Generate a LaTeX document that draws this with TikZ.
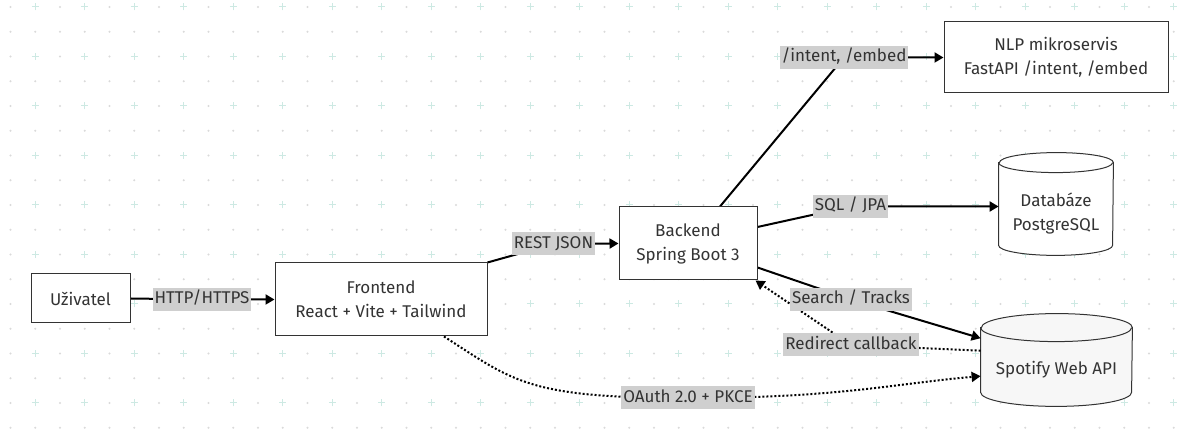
\documentclass[tikz,border=0pt]{standalone}
\usepackage{fontspec}
\setmainfont{Fira Sans}
\usetikzlibrary{arrows.meta,calc}
\pgfdeclarelayer{grid}
\pgfdeclarelayer{edges}
\pgfsetlayers{grid,edges,main}
\definecolor{ink}{HTML}{333333}
\definecolor{lblbg}{HTML}{CFCFCF}
\definecolor{plusc}{HTML}{CDE9E3}
\definecolor{dotc}{HTML}{DADADA}

\begin{document}
\begin{tikzpicture}[
  x=0.5pt,
  y=0.5pt,
  >={Triangle[length=4.5pt,width=5pt]},
  box/.style={draw=ink, line width=0.5pt, fill=white, align=center, text=ink, font=\fontsize{8.5}{12}\selectfont, inner sep=0pt},
  cylbody/.style={inner sep=0pt},
  cyltext/.style={align=center, text=ink, font=\fontsize{8.5}{12}\selectfont},
  cyl/.style={draw=ink, line width=0.5pt, fill=white},
  lbl/.style={fill=lblbg, text=ink, font=\fontsize{8.5}{10}\selectfont, text height=6.5pt, text depth=2pt, inner xsep=1pt, inner ysep=1.5pt},
  rel/.style={line width=1pt, black},
  cb/.style={rel, dash pattern=on 1pt off 1pt}
]
  \useasboundingbox (0,0) rectangle (1190,432);
  \begin{pgfonlayer}{grid}
    \fill[white] (0,0) rectangle (1190,432);
    \foreach \i in {0,...,47}{
      \foreach \j in {0,...,17}{
        \pgfmathsetmacro\gx{10.5+24.75*\i}
        \pgfmathsetmacro\gy{425-24.75*\j}
        \ifodd\i
          \ifodd\j \fill[dotc] (\gx,\gy) circle (0.55pt);
          \else \draw[plusc, line width=0.5pt] (\gx,\gy) +(-3.5,0) -- +(3.5,0) +(0,-3.5) -- +(0,3.5);
          \fi
        \else \fill[dotc] (\gx,\gy) circle (0.55pt);
        \fi
      }
    }
  \end{pgfonlayer}

  \node[box, minimum width=49.5pt, minimum height=24.5pt] (user) at (80.5,133.5) {Uživatel};
  \node[box, minimum width=106pt, minimum height=36.5pt] (front) at (381,132.5) {Frontend\\React + Vite + Tailwind};
  \node[box, minimum width=69pt, minimum height=36.5pt] (back) at (688,188.5) {Backend\\Spring Boot 3};
  \node[box, minimum width=112pt, minimum height=35.5pt] (nlp) at (1056,374.5) {NLP mikroservis\\FastAPI /intent, /embed};
  \node[cylbody, minimum width=57pt, minimum height=51pt] (db) at (1056,228) {};
  \node[cylbody, minimum width=75.5pt, minimum height=46pt] (spot) at (1056.5,72) {};
  \node[cyltext] (dbtext) at ([yshift=-5pt]db.center) {Databáze\\PostgreSQL};
  \node[cyltext] (spottext) at ([yshift=-5pt]spot.center) {Spotify Web API};

  \node[lbl] (lhttp) at (202,132.5) {HTTP/HTTPS};
  \node[lbl] (lrest) at (553.5,188) {REST JSON};
  \node[lbl] (lnlp) at (844,374.5) {/intent, /embed};
  \node[lbl] (lsql) at (850.5,225.5) {SQL / JPA};
  \node[lbl] (lsearch) at (851,132.5) {Search / Tracks};
  \node[lbl] (lredir) at (851,87) {Redirect callback};
  \node[lbl] (loauth) at (688,34) {OAuth 2.0 + PKCE};

  \begin{pgfonlayer}{edges}
    \draw[cyl] ([yshift=-5pt]db.north west) -- ([yshift=5pt]db.south west) arc[start angle=180, end angle=360, x radius=28.5pt, y radius=5pt] -- ([yshift=-5pt]db.north east) arc[start angle=0, end angle=180, x radius=28.5pt, y radius=5pt] -- cycle;
    \draw[cyl, fill=none] ([yshift=-5pt]db.north west) arc[start angle=180, end angle=360, x radius=28.5pt, y radius=5pt];
    \draw[cyl, fill=black!3] ([yshift=-7pt]spot.north west) -- ([yshift=7pt]spot.south west) arc[start angle=180, end angle=360, x radius=37.75pt, y radius=7pt] -- ([yshift=-7pt]spot.north east) arc[start angle=0, end angle=180, x radius=37.75pt, y radius=7pt] -- cycle;
    \draw[cyl, fill=none] ([yshift=-7pt]spot.north west) arc[start angle=180, end angle=360, x radius=37.75pt, y radius=7pt];

    \draw[rel, ->] (user.east) -- (lhttp.center) -- (front.west);
    \draw[rel, ->] (front.north east) -- (lrest.center) -- (back.west);
    \draw[rel, ->] ($(back.north)+(32,0)$) -- (lnlp.center) -- (nlp.west);
    \draw[rel, ->] ($(back.east)+(0,16.5)$) -- (lsql.center) -- (lsql.center -| db.west);
    \draw[rel, ->] ($(back.south east)+(0,13)$) -- (lsearch.center) -- (spot.164);
    \draw[cb, ->] (spot.173) -- (lredir.center) -- ($(back.south east)+(-2,0)$);
    \draw[cb, ->] ($(front.south)+(63,0)$) .. controls +(70,-45) and +(-160,0) .. (loauth.center) .. controls +(150,0) and +(-90,-8) .. (spot.192);
  \end{pgfonlayer}
\end{tikzpicture}
\end{document}
